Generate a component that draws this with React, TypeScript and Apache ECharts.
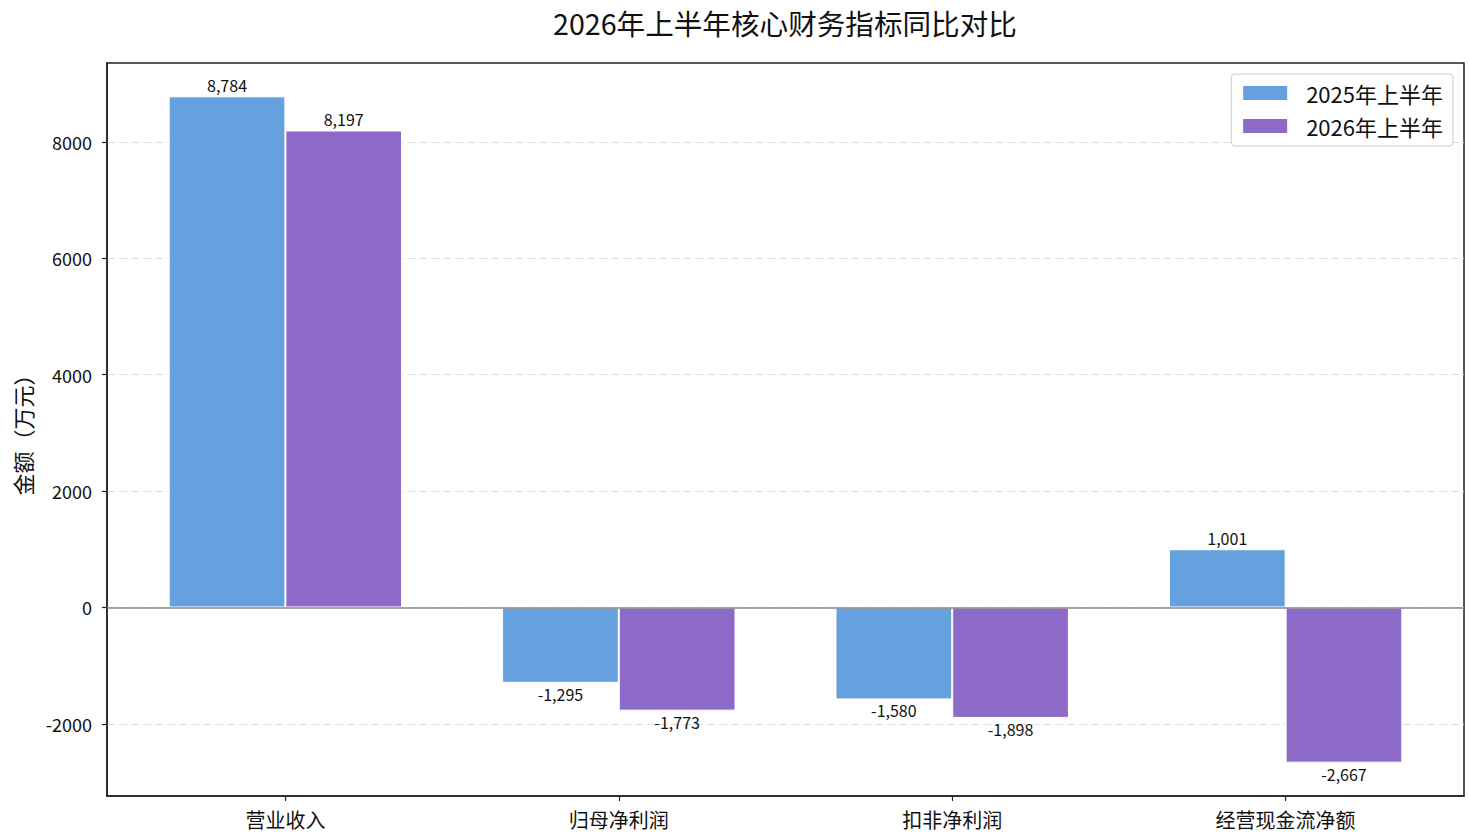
import React, { useEffect, useRef } from "react";
import * as echarts from "echarts";

const categories = ["营业收入", "归母净利润", "扣非净利润", "经营现金流净额"];
const seriesNames = ["2025年上半年", "2026年上半年"];
const values2025 = [8784, -1295, -1580, 1001];
const values2026 = [8197, -1773, -1898, -2667];
const yTickValues = [-2000, 0, 2000, 4000, 6000, 8000];
const xTickValues = [0, 1, 2, 3];

const FONT = "'Noto Sans CJK SC', 'Noto Sans', sans-serif";
const colors = ["#65A1DF", "#8E6AC8"];

function fmt(v: number): string {
  return v.toLocaleString("en-US");
}

function makeSeries(name: string, vals: number[], color: string, withZero: boolean) {
  const s: any = {
    name,
    type: "bar",
    barWidth: "35%",
    barGap: "0%",
    itemStyle: { color, borderColor: "#ffffff", borderWidth: 1 },
    label: {
      show: true,
      distance: 3,
      fontFamily: "Noto Sans CJK SC",
      fontWeight: "normal",
      fontSize: 16,
      color: "#111",
      formatter: (p: any) => fmt(p.value[1]),
    },
    data: vals.map((v, i) => ({
      value: [xTickValues[i], v],
      label: { position: v >= 0 ? "top" : "bottom" },
    })),
  };
  if (withZero) {
    s.markLine = {
      silent: true,
      symbol: ["none", "none"],
      label: { show: false },
      lineStyle: { color: "#888888", width: 1.6, type: "solid" },
      data: [{ yAxis: 0 }],
      z: 10,
    };
  }
  return s;
}

export default function App() {
  const ref = useRef<HTMLDivElement>(null);
  useEffect(() => {
    if (!ref.current) return;
    const chart = echarts.init(ref.current, null, { renderer: "svg" });
    chart.setOption({
      animation: false,
      backgroundColor: "#ffffff",
      textStyle: { fontFamily: FONT },
      title: {
        text: "2026年上半年核心财务指标同比对比",
        left: 785,
        textAlign: "center",
        top: 8,
        padding: 0,
        textStyle: { fontFamily: FONT, fontSize: 28.6, fontWeight: "normal", color: "#111" },
      },
      legend: {
        orient: "vertical",
        right: 15,
        top: 74,
        padding: [8, 10, 9, 10],
        itemGap: 11,
        itemWidth: 46,
        itemHeight: 16,
        icon: "rect",
        backgroundColor: "#ffffff",
        borderColor: "#cccccc",
        borderWidth: 1,
        borderRadius: 4,
        textStyle: { fontFamily: FONT, fontSize: 22, color: "#111", padding: [0, 0, 0, 13] },
        data: seriesNames,
      },
      grid: {
        left: 107,
        right: 4,
        top: 63,
        bottom: 39,
        show: true,
        borderColor: "#222222",
        borderWidth: 1.5,
        backgroundColor: "transparent",
      },
      xAxis: {
        type: "value",
        min: -0.535,
        max: 3.535,
        axisLine: { show: true, onZero: false, lineStyle: { color: "#222", width: 1.5 } },
        axisTick: {
          show: true,
          inside: false,
          length: 5,
          customValues: xTickValues,
          lineStyle: { color: "#222", width: 1.2 },
        },
        axisLabel: {
          customValues: xTickValues,
          formatter: (v: number) => categories[Math.round(v)] ?? "",
          fontFamily: FONT,
          fontSize: 20,
          color: "#111",
          margin: 13,
        },
        splitLine: { show: false },
      },
      yAxis: {
        type: "value",
        min: -3240,
        max: 9357,
        splitNumber: 6,
        minInterval: 2000,
        maxInterval: 2000,
        name: "金额（万元）",
        nameLocation: "middle",
        nameGap: 74,
        nameRotate: 90,
        nameTextStyle: { fontFamily: FONT, fontSize: 22, color: "#111" },
        axisLine: { show: true, onZero: false, lineStyle: { color: "#222", width: 1.5 } },
        axisTick: {
          show: true,
          inside: false,
          length: 5,
          customValues: yTickValues,
          lineStyle: { color: "#222", width: 1.2 },
        },
        axisLabel: {
          customValues: yTickValues,
          formatter: (v: number) => String(v),
          fontFamily: FONT,
          fontSize: 18,
          color: "#111",
          margin: 15,
        },
        splitLine: {
          show: true,
          lineStyle: { color: "#dddddd", width: 1, type: [8, 4] },
        },
      },
      series: [
        makeSeries(seriesNames[0], values2025, colors[0], true),
        makeSeries(seriesNames[1], values2026, colors[1], false),
      ],
    });
    return () => chart.dispose();
  }, []);
  return (
    <div
      ref={ref}
      style={{ position: "absolute", left: 0, top: 0, width: 1468, height: 835, background: "#fff" }}
    />
  );
}
